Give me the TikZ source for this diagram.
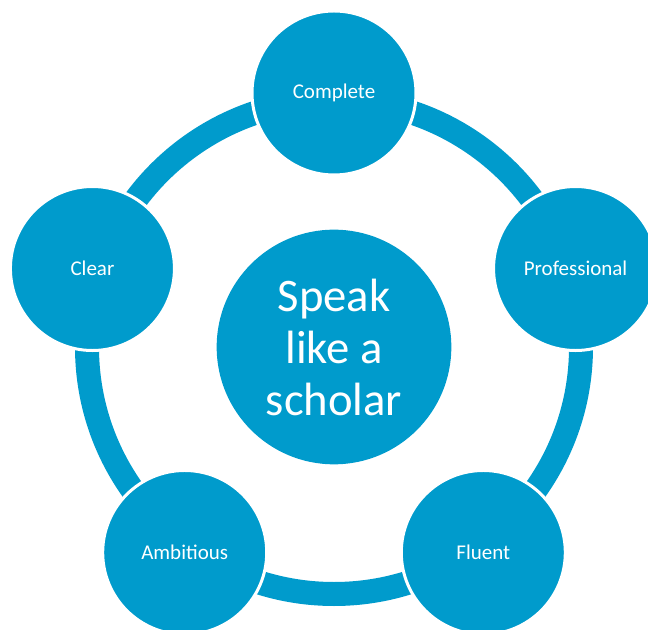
\documentclass[tikz,border=0pt]{standalone}
\usepackage{fontspec}
\setmainfont{Carlito}
\definecolor{cycleblue}{RGB}{0,155,204}

\begin{document}
\begin{tikzpicture}[x=0.75pt, y=0.75pt,
	bubble/.style={circle, fill=cycleblue, draw=white, line width=2.25pt, minimum size=123pt, inner sep=0pt, text=white, font=\fontsize{15.75}{19}\selectfont},
	hub/.style={circle, fill=cycleblue, minimum size=176pt, inner sep=0pt, text=white, align=center, font=\fontsize{35}{39}\selectfont},
	ring/.style={draw=cycleblue, line width=18pt}]
	\def\R{254};
	
	\clip (-334,-283) rectangle (314,347);
	
	\draw[ring] (0,0) circle [radius=185.25pt];
	
	\node[hub] (speak) at (0,0) {Speak\\like a\\scholar};
	
	\node[bubble] (complete) at (90:\R) {Complete};
	\node[bubble] (professional) at (18:\R) {Professional};
	\node[bubble] (fluent) at (-54:\R) {Fluent};
	\node[bubble] (ambitious) at (-126:\R) {Ambitious};
	\node[bubble] (clear) at (162:\R) {Clear};
\end{tikzpicture}
\end{document}
